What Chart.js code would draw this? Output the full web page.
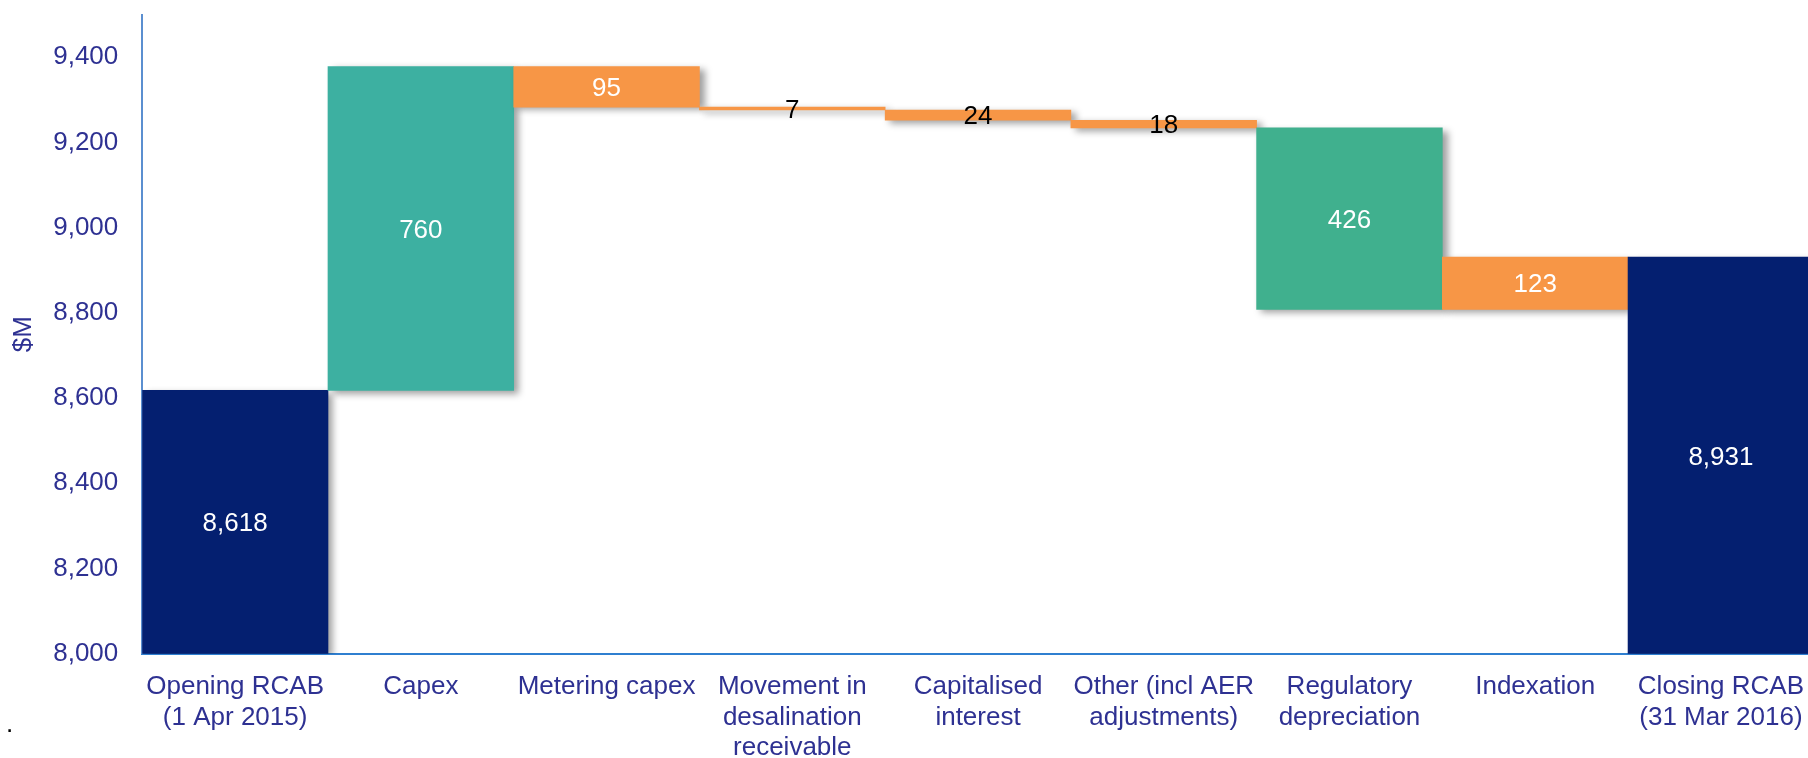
<!DOCTYPE html>
<html>
<head>
<meta charset="utf-8">
<script src="https://cdn.jsdelivr.net/npm/chart.js@4/dist/chart.umd.min.js"></script>
<style>
  html, body { margin: 0; padding: 0; background: #ffffff; overflow: hidden; width: 1808px; height: 758px; }
  #wrap { position: absolute; left: 0; top: -25px; width: 1822px; height: 812px; }
  #dot { position: absolute; left: 6px; top: 708px; font: 26px "Liberation Sans", Arial, sans-serif; color: #000; }
</style>
</head>
<body>
<div id="wrap"><canvas id="c"></canvas></div>
<div id="dot">.</div>
<script>
// Categories (multi-line labels)
const categories = [
  ["Opening RCAB", "(1 Apr 2015)"],
  ["Capex"],
  ["Metering capex"],
  ["Movement in", "desalination", "receivable"],
  ["Capitalised", "interest"],
  ["Other (incl AER", "adjustments)"],
  ["Regulatory", "depreciation"],
  ["Indexation"],
  ["Closing RCAB", "(31 Mar 2016)"]
];
// Floating bar ranges ($M)
const barStart = [8000, 8618, 9283, 9276, 9252, 9234, 8808, 8808, 8000];
const barEnd   = [8618, 9378, 9378, 9283, 9276, 9252, 9234, 8931, 8931];
// Value labels shown on the bars
const valueLabels = ["8,618", "760", "95", "7", "24", "18", "426", "123", "8,931"];
const labelColors = ["#ffffff", "#ffffff", "#ffffff", "#000000", "#000000", "#000000", "#ffffff", "#ffffff", "#ffffff"];
// Bar colours
const barColors = ["#041F70", "#3DB0A1", "#F79646", "#F79646", "#F79646", "#F79646", "#40B08E", "#F79646", "#041F70"];
// Axis
const yMin = 8000, yMax = 9500, yStep = 200;

const FONT = '"Liberation Sans", Arial, sans-serif';
const TEXT_BLUE = "#2E3192";

const shadowPlugin = {
  id: "shadow",
  beforeDatasetDraw(chart) {
    const ctx = chart.ctx;
    ctx.save();
    ctx.shadowColor = "rgba(0,0,0,0.38)";
    ctx.shadowBlur = 7;
    ctx.shadowOffsetX = 5;
    ctx.shadowOffsetY = 3;
  },
  afterDatasetDraw(chart) {
    chart.ctx.restore();
  }
};

const labelPlugin = {
  id: "valueLabels",
  afterDraw(chart) {
    const ctx = chart.ctx;
    const meta = chart.getDatasetMeta(0);
    const y = chart.scales.y;
    ctx.save();
    ctx.font = "26px " + FONT;
    ctx.textAlign = "center";
    ctx.textBaseline = "middle";
    meta.data.forEach((bar, i) => {
      const mid = (barStart[i] + barEnd[i]) / 2;
      ctx.fillStyle = labelColors[i];
      ctx.fillText(valueLabels[i], bar.x, y.getPixelForValue(mid) + 2);
    });
    ctx.restore();
  }
};

new Chart(document.getElementById("c"), {
  type: "bar",
  data: {
    labels: categories,
    datasets: [{
      data: barStart.map((s, i) => [s, barEnd[i]]),
      backgroundColor: barColors,
      borderWidth: 0,
      borderSkipped: false,
      barPercentage: 1.0,
      categoryPercentage: 1.0
    }]
  },
  options: {
    responsive: true,
    maintainAspectRatio: false,
    animation: false,
    layout: { padding: { left: 0, top: 14, right: 0, bottom: 6 } },
    plugins: { legend: { display: false }, tooltip: { enabled: false } },
    scales: {
      x: {
        grid: { display: false, drawTicks: false },
        border: { display: true, color: "#2F7FD0", width: 2 },
        ticks: {
          color: TEXT_BLUE,
          font: { family: FONT, size: 26, lineHeight: 1.17 },
          padding: 18,
          maxRotation: 0, minRotation: 0, autoSkip: false
        }
      },
      y: {
        min: yMin, max: yMax,
        afterBuildTicks(scale) {
          scale.ticks = scale.ticks.filter(t => t.value % yStep === 0);
        },
        grid: { display: false, drawTicks: false },
        border: { display: true, color: "#5B8FD0", width: 2 },
        title: {
          display: true, text: "$M", color: TEXT_BLUE,
          font: { family: FONT, size: 26, lineHeight: 1.2 },
          padding: { top: 8, bottom: -10 }
        },
        ticks: {
          stepSize: yStep,
          color: TEXT_BLUE,
          font: { family: FONT, size: 26 },
          padding: 24,
          callback: v => v.toLocaleString("en-US")
        }
      }
    }
  },
  plugins: [shadowPlugin, labelPlugin]
});
</script>
</body>
</html>
